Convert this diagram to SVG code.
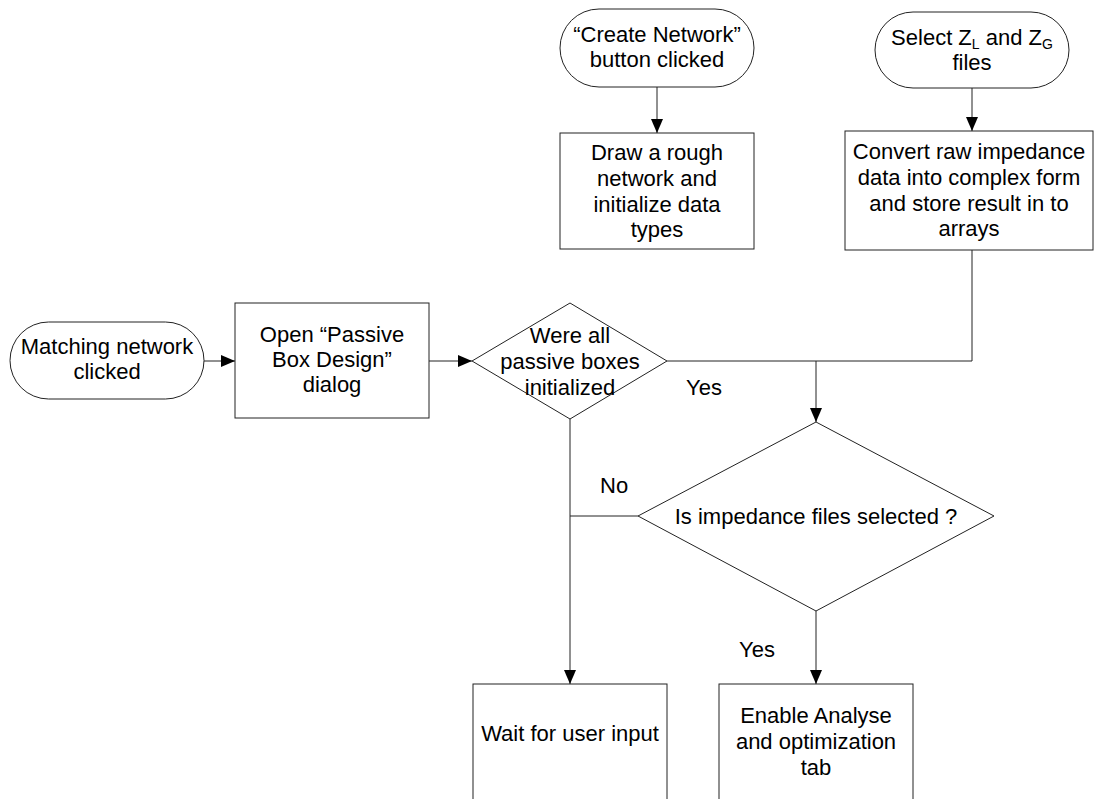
<svg xmlns="http://www.w3.org/2000/svg" width="1094" height="799" viewBox="0 0 1094 799">
  <defs>
    <marker id="arrow" markerUnits="userSpaceOnUse" markerWidth="14" markerHeight="12" refX="14" refY="6" orient="auto">
      <path d="M0,0 L14,6 L0,12 Z" fill="#000"/>
    </marker>
    <style>
      .shape { fill: #fff; stroke: #222; stroke-width: 1; }
      .line { fill: none; stroke: #222; stroke-width: 1; }
      .arr { marker-end: url(#arrow); }
      text { font-family: "Liberation Sans", Arial, sans-serif; font-size: 22px; fill: #000; }
      .c { text-anchor: middle; }
      .sub { font-size: 14px; }
    </style>
  </defs>
  <rect width="1094" height="799" fill="#fff"/>

  <!-- connectors -->
  <g id="connectors">
    <line class="line arr" x1="657" y1="87" x2="657" y2="133"/>
    <line class="line arr" x1="972" y1="88" x2="972" y2="131"/>
    <line class="line arr" x1="204" y1="361" x2="235" y2="361"/>
    <line class="line arr" x1="429" y1="361" x2="472" y2="361"/>
    <polyline class="line" points="972,250 972,361 667,361"/>
    <line class="line arr" x1="816" y1="361" x2="816" y2="422"/>
    <line class="line arr" x1="570" y1="419" x2="570" y2="684"/>
    <line class="line" x1="638" y1="516" x2="570" y2="516"/>
    <line class="line arr" x1="816" y1="611" x2="816" y2="684"/>
    <text x="686" y="395">Yes</text>
    <text x="600" y="493">No</text>
    <text x="739" y="657">Yes</text>
  </g>

  <!-- start: create network -->
  <g id="create-network">
    <rect class="shape" x="560" y="9" width="194" height="78" rx="39" ry="39"/>
    <text class="c" x="657" y="42">“Create Network”</text>
    <text class="c" x="657" y="67">button clicked</text>
  </g>

  <g id="draw-network">
    <rect class="shape" x="560" y="133" width="194" height="116"/>
    <text class="c" x="657" y="160">Draw a rough</text>
    <text class="c" x="657" y="186">network and</text>
    <text class="c" x="657" y="212">initialize data</text>
    <text class="c" x="657" y="237">types</text>
  </g>

  <!-- start: impedance file selection -->
  <g id="select-files">
    <rect class="shape" x="875" y="12" width="194" height="76" rx="38" ry="38"/>
    <text class="c" x="972" y="45">Select Z<tspan class="sub" dy="4">L</tspan><tspan dy="-4"> and Z</tspan><tspan class="sub" dy="4">G</tspan></text>
    <text class="c" x="972" y="70">files</text>
  </g>

  <g id="convert-data">
    <rect class="shape" x="845" y="131" width="248" height="119"/>
    <text class="c" x="969" y="159">Convert raw impedance</text>
    <text class="c" x="969" y="185">data into complex form</text>
    <text class="c" x="969" y="211">and store result in to</text>
    <text class="c" x="969" y="236">arrays</text>
  </g>

  <!-- start: matching network -->
  <g id="matching-network">
    <rect class="shape" x="10" y="322" width="194" height="77" rx="38.5" ry="38.5"/>
    <text class="c" x="107" y="354">Matching network</text>
    <text class="c" x="107" y="379">clicked</text>
  </g>

  <g id="passive-box-dialog">
    <rect class="shape" x="235" y="303" width="194" height="115"/>
    <text class="c" x="332" y="342">Open “Passive</text>
    <text class="c" x="332" y="367">Box Design”</text>
    <text class="c" x="332" y="392">dialog</text>
  </g>

  <g id="boxes-initialized">
    <polygon class="shape" points="472,361 570,303 667,361 570,419"/>
    <text class="c" x="570" y="343">Were all</text>
    <text class="c" x="570" y="369">passive boxes</text>
    <text class="c" x="570" y="395">initialized</text>
  </g>

  <g id="files-selected">
    <polygon class="shape" points="638,516 816,422 994,516 816,611"/>
    <text class="c" x="816" y="524">Is impedance files selected ?</text>
  </g>

  <g id="wait-input">
    <rect class="shape" x="473" y="684" width="194" height="140"/>
    <text class="c" x="570" y="741">Wait for user input</text>
  </g>

  <g id="enable-analyse">
    <rect class="shape" x="719" y="684" width="194" height="140"/>
    <text class="c" x="816" y="723">Enable Analyse</text>
    <text class="c" x="816" y="749">and optimization</text>
    <text class="c" x="816" y="775">tab</text>
  </g>
</svg>
